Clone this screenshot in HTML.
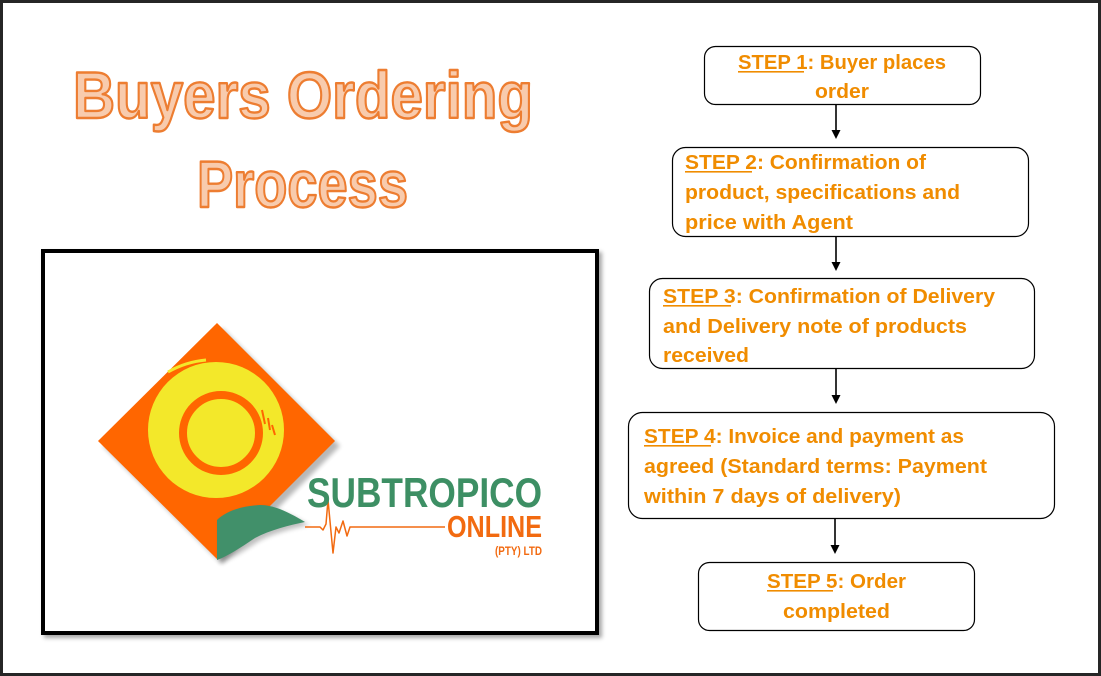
<!DOCTYPE html>
<html>
<head>
<meta charset="utf-8">
<style>
  html,body{margin:0;padding:0;background:#fff;}
  #wrap{position:relative;width:1101px;height:676px;overflow:hidden;background:#fff;}
  #border{position:absolute;left:0;top:0;width:1101px;height:676px;box-sizing:border-box;border:3px solid #262626;}
  #frame{position:absolute;left:41px;top:249px;width:558px;height:386px;box-sizing:border-box;border:4px solid #000;background:#fff;box-shadow:3px 3px 4px rgba(0,0,0,0.35);}
  svg{position:absolute;left:0;top:0;}
  .st{font-family:"Liberation Sans",Arial,sans-serif;font-weight:bold;font-size:20px;fill:#f08c00;}
</style>
</head>
<body>
<div id="wrap">
  <div id="frame"></div>
  <svg width="1101" height="676" viewBox="0 0 1101 676" xmlns="http://www.w3.org/2000/svg">
    <defs>
      <filter id="blur" x="-20%" y="-20%" width="140%" height="140%"><feGaussianBlur stdDeviation="2.5"/></filter>
    </defs>
    <!-- Title -->
    <g font-family="Liberation Sans, Arial, sans-serif" font-weight="bold" fill="#f8cbad" stroke="#ed7d31" stroke-width="2.4" stroke-linejoin="round">
      <text x="73" y="118" font-size="66" textLength="460" lengthAdjust="spacingAndGlyphs">Buyers Ordering</text>
      <text x="197" y="207" font-size="66" textLength="211" lengthAdjust="spacingAndGlyphs">Process</text>
    </g>

    <!-- Logo -->
    <polygon points="222,328 340,446 222,564 103,446" fill="#000" opacity="0.28" filter="url(#blur)"/>
    <polygon points="217,323 335,441 217,559 98,441" fill="#ff6600"/>
    <circle cx="216" cy="430" r="68" fill="#f3e82a"/>
    <path d="M168,372 C182,364 195,361 206,360" stroke="#f3e82a" stroke-width="3" fill="none"/>
    <circle cx="221" cy="433" r="38" fill="#f3e82a" stroke="#ff6600" stroke-width="8"/>
    <path d="M262,410 l3,14 M268,418 l2,12 M272,425 l3,10" stroke="#ff6600" stroke-width="2"/>
    <path d="M220,522 C228,514 243,509 263,508 C278,508 293,516 309,525 C294,528 274,533 259,541 C244,551 231,559 220,563 Z" fill="#000" opacity="0.25" filter="url(#blur)"/>
    <path d="M217,520 C225,512 240,506 260,505 C275,505 290,513 305,522 C290,525 270,530 255,538 C240,548 228,556 217,560 Z" fill="#41906a"/>
    <polyline points="305,527 320,527 323,530 326,524 328,500 333,553 336,527 339,533 343,521 347,536 350,527 445,527" fill="none" stroke="#f26a10" stroke-width="1.5" stroke-linejoin="round"/>
    <text x="307" y="507" font-family="Liberation Sans Narrow, Liberation Sans, Arial, sans-serif" font-weight="bold" font-size="42" fill="#3d8f64" textLength="235" lengthAdjust="spacingAndGlyphs">SUBTROPICO</text>
    <text x="447" y="537" font-family="Liberation Sans Narrow, Liberation Sans, Arial, sans-serif" font-weight="bold" font-size="31" fill="#f26a10" textLength="95" lengthAdjust="spacingAndGlyphs">ONLINE</text>
    <text x="495" y="555" font-family="Liberation Sans, Arial, sans-serif" font-weight="bold" font-size="12" fill="#f26a10" textLength="47" lengthAdjust="spacingAndGlyphs">(PTY) LTD</text>

    <!-- Step boxes -->
    <g fill="#fff" stroke="#000" stroke-width="1.2">
      <rect x="704.5" y="46.5" width="276" height="58" rx="11"/>
      <rect x="672.5" y="147.5" width="356" height="89" rx="13"/>
      <rect x="649.5" y="278.5" width="385" height="90" rx="13"/>
      <rect x="628.5" y="412.5" width="426" height="106" rx="14"/>
      <rect x="698.5" y="562.5" width="276" height="68" rx="11"/>
    </g>

    <!-- Arrows -->
    <g stroke="#000" stroke-width="1.6">
      <line x1="836" y1="105" x2="836" y2="131"/>
      <line x1="836" y1="237" x2="836" y2="263"/>
      <line x1="836" y1="369" x2="836" y2="396"/>
      <line x1="835" y1="519" x2="835" y2="546"/>
    </g>
    <g fill="#000">
      <polygon points="831.5,130 840.5,130 836,139"/>
      <polygon points="831.5,262 840.5,262 836,271"/>
      <polygon points="831.5,395 840.5,395 836,404"/>
      <polygon points="830.5,545 839.5,545 835,554"/>
    </g>

    <!-- Step text -->
    <text class="st" x="738" y="69" textLength="208" lengthAdjust="spacingAndGlyphs">STEP 1: Buyer places</text>
    <text class="st" x="815" y="98" textLength="54" lengthAdjust="spacingAndGlyphs">order</text>

    <text class="st" x="685" y="169" textLength="241" lengthAdjust="spacingAndGlyphs">STEP 2: Confirmation of</text>
    <text class="st" x="685" y="199" textLength="275" lengthAdjust="spacingAndGlyphs">product, specifications and</text>
    <text class="st" x="685" y="229" textLength="168" lengthAdjust="spacingAndGlyphs">price with Agent</text>

    <text class="st" x="663" y="303" textLength="332" lengthAdjust="spacingAndGlyphs">STEP 3: Confirmation of Delivery</text>
    <text class="st" x="663" y="333" textLength="304" lengthAdjust="spacingAndGlyphs">and Delivery note of products</text>
    <text class="st" x="663" y="362" textLength="86" lengthAdjust="spacingAndGlyphs">received</text>

    <text class="st" x="644" y="443" textLength="320" lengthAdjust="spacingAndGlyphs">STEP 4: Invoice and payment as</text>
    <text class="st" x="644" y="473" textLength="343" lengthAdjust="spacingAndGlyphs">agreed (Standard terms: Payment</text>
    <text class="st" x="644" y="503" textLength="257" lengthAdjust="spacingAndGlyphs">within 7 days of delivery)</text>

    <text class="st" x="767" y="588" textLength="139" lengthAdjust="spacingAndGlyphs">STEP 5: Order</text>
    <text class="st" x="783" y="618" textLength="107" lengthAdjust="spacingAndGlyphs">completed</text>

    <!-- underlines -->
    <g fill="#f08c00">
      <rect x="738" y="71" width="66" height="1.6"/>
      <rect x="685" y="171" width="67" height="1.6"/>
      <rect x="663" y="305" width="68" height="1.6"/>
      <rect x="644" y="445" width="67" height="1.6"/>
      <rect x="767" y="590" width="66" height="1.6"/>
    </g>
  </svg>
  <div id="border"></div>
</div>
</body>
</html>
